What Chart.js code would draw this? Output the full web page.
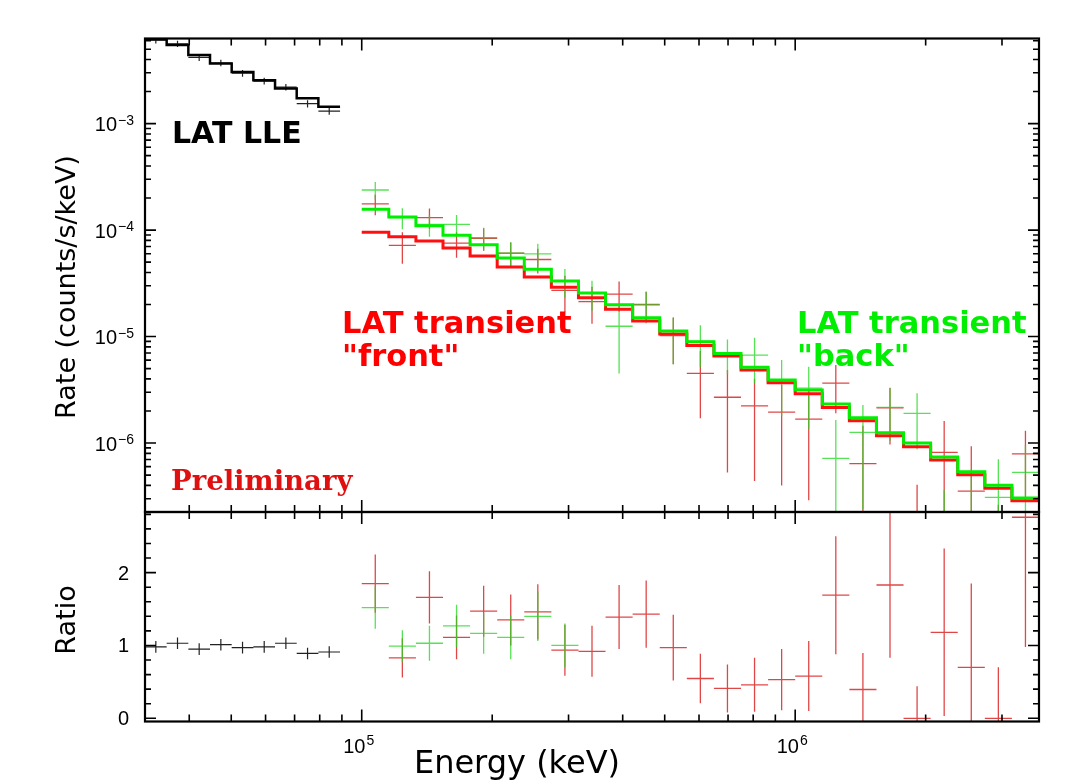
<!DOCTYPE html>
<html>
<head>
<meta charset="utf-8">
<title>Rate and ratio vs energy</title>
<script src="https://cdn.jsdelivr.net/npm/chart.js@4.4.0/dist/chart.umd.min.js"></script>
<style>
  html, body { margin: 0; padding: 0; background: #fff; }
  #wrap { position: relative; width: 1080px; height: 782px; }
  #wrap canvas { position: absolute; left: 0; top: 0; }
</style>
</head>
<body>
<div id="wrap">
  <canvas id="rateChart" width="1080" height="782"></canvas>
  <canvas id="ratioChart" width="1080" height="782"></canvas>
</div>
<script>
// energy range (keV)
const xMin = 31623;
const xMax = 3651741;

// LLE bins (keV edges), folded model, data and ratio
const lleEdges = [31623, 35481, 39811, 44668, 50119, 56234, 63096, 70795, 79433, 89125];
const lleModel = [6.2e-3, 5.46e-3, 4.40e-3, 3.67e-3, 3.06e-3, 2.56e-3, 2.14e-3, 1.73e-3, 1.44e-3];
const lleRate = [6.08e-3, 5.62e-3, 4.18e-3, 3.71e-3, 2.97e-3, 2.51e-3, 2.20e-3, 1.54e-3, 1.31e-3];
const lleRateErr = [4.3e-4, 3.8e-4, 3.1e-4, 2.6e-4, 2.1e-4, 1.8e-4, 1.5e-4, 1.2e-4, 1.0e-4];
const lleRatio = [0.98, 1.03, 0.95, 1.01, 0.97, 0.98, 1.03, 0.89, 0.91];
const lleRatioErr = [0.08, 0.08, 0.08, 0.08, 0.08, 0.08, 0.08, 0.08, 0.08];

// LAT transient bins (keV edges), shared by front and back
const latEdges = [100000, 115478, 133352, 153993, 177828, 205353, 237137, 273842, 316228,
  365174, 421697, 486968, 562341, 649382, 749894, 865964, 1000000, 1154782, 1333521,
  1539927, 1778279, 2053525, 2371374, 2738420, 3162278, 3651741];

// "front" events
const frontModel = [9.52e-5, 8.65e-5, 7.88e-5, 6.78e-5, 5.70e-5, 4.49e-5, 3.62e-5, 2.90e-5,
  2.32e-5, 1.80e-5, 1.40e-5, 1.055e-5, 8.26e-6, 6.56e-6, 4.84e-6, 3.68e-6, 2.90e-6,
  2.16e-6, 1.62e-6, 1.17e-6, 9.23e-7, 6.92e-7, 5.04e-7, 3.76e-7, 2.87e-7];
const frontRate = [1.761e-4, 7.18e-5, 1.308e-4, 7.53e-5, 8.38e-5, 6.06e-5, 5.29e-5, 2.71e-5,
  2.13e-5, 2.50e-5, 2.00e-5, 1.02e-5, 4.51e-6, 2.69e-6, 2.23e-6, 1.95e-6, 1.68e-6,
  3.65e-6, 6.4e-7, 2.14e-6, 0, 8.17e-7, 3.53e-7, 0, 7.92e-7];
const frontRateErr = [3.81e-5, 2.34e-5, 2.84e-5, 2.03e-5, 2.00e-5, 1.57e-5, 1.38e-5, 1.02e-5,
  8.1e-6, 7.9e-6, 6.4e-6, 4.7e-6, 2.8e-6, 2.16e-6, 1.79e-6, 1.55e-6, 1.39e-6,
  1.75e-6, 8.1e-7, 1.17e-6, 4.06e-7, 7.96e-7, 5.8e-7, 2.63e-7, 5.11e-7];
const frontRatio = [1.85, 0.83, 1.66, 1.11, 1.47, 1.35, 1.46, 0.935, 0.92, 1.39, 1.43, 0.97,
  0.546, 0.41, 0.46, 0.53, 0.58, 1.69, 0.395, 1.83, 0.0, 1.18, 0.70, 0.0, 2.76];
const frontRatioErr = [0.40, 0.27, 0.36, 0.30, 0.35, 0.35, 0.38, 0.35, 0.35, 0.44, 0.46, 0.45,
  0.34, 0.33, 0.37, 0.42, 0.48, 0.81, 0.50, 1.0, 0.44, 1.15, 1.15, 0.70, 1.78];

// "back" events
const backModel = [1.565e-4, 1.324e-4, 1.098e-4, 8.92e-5, 7.28e-5, 5.46e-5, 4.28e-5, 3.32e-5,
  2.56e-5, 1.99e-5, 1.50e-5, 1.127e-5, 8.93e-6, 6.95e-6, 5.14e-6, 3.91e-6, 3.15e-6,
  2.32e-6, 1.73e-6, 1.25e-6, 1.0e-6, 7.39e-7, 5.37e-7, 4.01e-7, 3.05e-7];
const backRate = [2.38e-4, 1.31e-4, 1.13e-4, 1.13e-4, 8.48e-5, 6.06e-5, 5.99e-5, 3.32e-5,
  2.55e-5, 1.25e-5, 1.98e-5, 1.04e-5, 9.0e-6, 6.9e-6, 6.70e-6, 3.89e-6, 3.28e-6,
  7.18e-7, 1.26e-6, 2.16e-6, 1.90e-6, 1.0e-7, 1.5e-7, 3.09e-7, 5.31e-7];
const backRateErr = [4.54e-5, 2.91e-5, 2.64e-5, 2.59e-5, 2.04e-5, 1.64e-5, 1.46e-5, 1.0e-5,
  8.0e-6, 8.0e-6, 6.5e-6, 4.9e-6, 3.8e-6, 2.5e-6, 3.05e-6, 2.12e-6, 1.92e-6,
  9.3e-7, 1.02e-6, 1.11e-6, 1.03e-6, 2.6e-7, 4.1e-7, 3.94e-7, 4.26e-7];
const backRatio = [1.52, 0.99, 1.03, 1.27, 1.165, 1.11, 1.40, 1.0];
const backRatioErr = [0.29, 0.22, 0.24, 0.29, 0.28, 0.30, 0.34, 0.30];

// axis ranges and ticks
const rateMin = 2.25e-7, rateMax = 6.3e-3;
const ratioMin = -0.044, ratioMax = 2.832;
const xMajor = [1e5, 1e6];
const xMajorExp = ['5', '6'];
const xMinor = [4e4, 5e4, 6e4, 7e4, 8e4, 9e4, 2e5, 3e5, 4e5, 5e5, 6e5, 7e5, 8e5, 9e5, 2e6, 3e6];
const rateMajor = [1e-3, 1e-4, 1e-5, 1e-6];
const rateMajorExp = ['\u22123', '\u22124', '\u22125', '\u22126'];
const ratioMajor = [0, 1, 2];
const ratioMinor = [0.2, 0.4, 0.6, 0.8, 1.2, 1.4, 1.6, 1.8, 2.2, 2.4, 2.6, 2.8];

const rateMinor = [];
[1e-7, 1e-6, 1e-5, 1e-4, 1e-3].forEach(dec => {
  for (let m = 2; m <= 9; m++) {
    const v = m * dec;
    if (v > rateMin && v < rateMax) rateMinor.push(v);
  }
});

// histogram steps from bin edges
function stepPoints(edges, vals) {
  const pts = vals.map((v, i) => ({ x: edges[i], y: v }));
  pts.push({ x: edges[vals.length], y: vals[vals.length - 1] });
  return pts;
}

// error crosses: bin width horizontally, +/- error vertically, gaps between them
function crossPoints(edges, vals, errs, floor) {
  const pts = [];
  vals.forEach((v, i) => {
    if (v === null || v === undefined) return;
    const lo = edges[i], hi = edges[i + 1];
    const mid = Math.sqrt(lo * hi);
    if (v > floor) {
      pts.push({ x: lo, y: v }, { x: hi, y: v }, { x: mid, y: null });
    }
    pts.push({ x: mid, y: Math.max(v - errs[i], floor) }, { x: mid, y: v + errs[i] }, { x: mid, y: null });
  });
  return pts;
}

const RED = '#ff1010';
const GREEN = '#00ee00';
const RED_ERR = 'rgba(215,25,25,0.8)';
const GREEN_ERR = 'rgba(30,215,30,0.75)';

function line(data, color, width, order, stepped) {
  return {
    data: data,
    borderColor: color,
    borderWidth: width,
    pointRadius: 0,
    fill: false,
    tension: 0,
    spanGaps: false,
    stepped: stepped ? 'before' : false,
    order: order,
    clip: 0
  };
}

// frame, inward ticks, tick labels and titles
const axesPlugin = {
  id: 'axesPlugin',
  afterDraw(chart, args, o) {
    const { ctx, chartArea: a, scales: { x, y } } = chart;
    ctx.save();
    ctx.strokeStyle = '#000';
    ctx.lineWidth = 1.6;
    ctx.beginPath();
    const tick = (px, py, dx, dy) => { ctx.moveTo(px, py); ctx.lineTo(px + dx, py + dy); };
    xMajor.forEach(v => { const p = x.getPixelForValue(v); tick(p, a.top, 0, 12); tick(p, a.bottom, 0, -12); });
    xMinor.forEach(v => { const p = x.getPixelForValue(v); tick(p, a.top, 0, 7); tick(p, a.bottom, 0, -7); });
    o.yMajor.forEach(v => { const p = y.getPixelForValue(v); tick(a.left, p, 11, 0); tick(a.right, p, -11, 0); });
    o.yMinor.forEach(v => { const p = y.getPixelForValue(v); tick(a.left, p, 6, 0); tick(a.right, p, -6, 0); });
    ctx.stroke();
    ctx.lineWidth = 2.2;
    ctx.strokeRect(a.left, a.top, a.right - a.left, a.bottom - a.top);

    ctx.fillStyle = '#000';
    ctx.textBaseline = 'alphabetic';
    // y tick labels
    o.yMajor.forEach((v, i) => {
      const p = y.getPixelForValue(v);
      ctx.textAlign = 'right';
      if (o.yExp) {
        ctx.font = '14px "Liberation Sans"';
        const ew = ctx.measureText(o.yExp[i]).width;
        ctx.fillText(o.yExp[i], 134, p + 1);
        ctx.font = '20px "Liberation Sans"';
        ctx.fillText('10', 134 - ew - 1, p + 7.5);
      } else {
        ctx.font = '20px "Liberation Sans"';
        ctx.fillText(String(v), 129, p + 7);
      }
    });
    // y title
    ctx.save();
    ctx.translate(68, o.titleY);
    ctx.rotate(-Math.PI / 2);
    ctx.font = '27px "DejaVu Sans"';
    ctx.textAlign = 'center';
    ctx.textBaseline = 'middle';
    ctx.fillText(o.title, 0, 0);
    ctx.restore();

    if (o.xLabels) {
      xMajor.forEach((v, i) => {
        const p = x.getPixelForValue(v) - 3;
        ctx.font = '20px "Liberation Sans"';
        const bw = ctx.measureText('10').width;
        ctx.font = '14px "Liberation Sans"';
        const ew = ctx.measureText(xMajorExp[i]).width;
        const left = p - (bw + ew + 1) / 2;
        ctx.textAlign = 'left';
        ctx.fillText(xMajorExp[i], left + bw + 1, a.bottom + 23);
        ctx.font = '20px "Liberation Sans"';
        ctx.fillText('10', left, a.bottom + 31);
      });
      ctx.font = '32px "DejaVu Sans"';
      ctx.textAlign = 'center';
      ctx.fillText('Energy (keV)', 517, 773);
    }

    if (o.notes) {
      ctx.textAlign = 'left';
      ctx.font = 'bold 30px "DejaVu Sans"';
      ctx.fillStyle = '#000';
      ctx.fillText('LAT LLE', 172, 143);
      ctx.font = 'bold 30.5px "DejaVu Sans"';
      ctx.fillStyle = '#ff0000';
      ctx.fillText('LAT transient', 342, 333);
      ctx.fillText('"front"', 342, 366);
      ctx.fillStyle = '#00ee00';
      ctx.fillText('LAT transient', 797, 333);
      ctx.fillText('"back"', 797, 366);
      ctx.font = 'bold 27.5px "DejaVu Serif"';
      ctx.fillStyle = '#e01010';
      ctx.fillText('Preliminary', 171, 490);
    }
    ctx.restore();
  }
};

const baseOptions = (pad, yScale, frameOpts) => ({
  responsive: false,
  animation: false,
  events: [],
  layout: { padding: pad },
  scales: {
    x: { type: 'logarithmic', min: xMin, max: xMax, bounds: 'data', display: false },
    y: Object.assign({ display: false, bounds: 'data' }, yScale)
  },
  plugins: { legend: { display: false }, tooltip: { enabled: false }, axesPlugin: frameOpts }
});

new Chart(document.getElementById('rateChart'), {
  type: 'line',
  data: {
    datasets: [
      line(stepPoints(latEdges, backModel), GREEN, 3, 0, true),
      line(stepPoints(latEdges, frontModel), RED, 3, 1, true),
      line(stepPoints(lleEdges, lleModel), '#000', 2.5, 2, true),
      line(crossPoints(latEdges, backRate, backRateErr, 1e-9), GREEN_ERR, 1.3, 3),
      line(crossPoints(latEdges, frontRate, frontRateErr, 1e-9), RED_ERR, 1.3, 4),
      line(crossPoints(lleEdges, lleRate, lleRateErr, 1e-9), '#222', 1.2, 5)
    ]
  },
  options: baseOptions(
    { left: 145, right: 41, top: 38.5, bottom: 270 },
    { type: 'logarithmic', min: rateMin, max: rateMax },
    { yMajor: rateMajor, yMinor: rateMinor, yExp: rateMajorExp, title: 'Rate (counts/s/keV)', titleY: 287, notes: true }
  ),
  plugins: [axesPlugin]
});

new Chart(document.getElementById('ratioChart'), {
  type: 'line',
  data: {
    datasets: [
      line(crossPoints(latEdges, backRatio, backRatioErr, -1), GREEN_ERR, 1.3, 0),
      line(crossPoints(latEdges, frontRatio, frontRatioErr, -1), RED_ERR, 1.3, 1),
      line(crossPoints(lleEdges, lleRatio, lleRatioErr, -1), '#222', 1.2, 2)
    ]
  },
  options: baseOptions(
    { left: 145, right: 41, top: 512, bottom: 60.5 },
    { type: 'linear', min: ratioMin, max: ratioMax },
    { yMajor: ratioMajor, yMinor: ratioMinor, title: 'Ratio', titleY: 620, xLabels: true }
  ),
  plugins: [axesPlugin]
});
</script>
</body>
</html>
